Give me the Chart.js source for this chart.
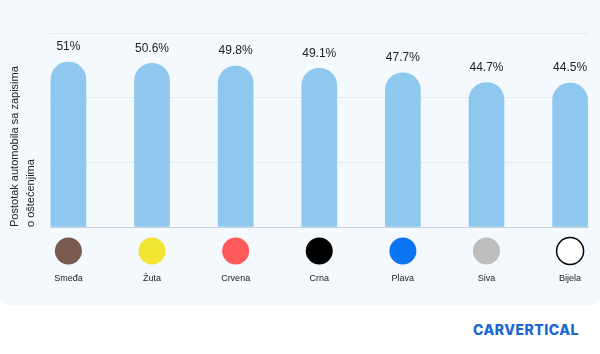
<!DOCTYPE html>
<html>
<head>
<meta charset="utf-8">
<script src="https://cdn.jsdelivr.net/npm/chart.js@4.4.1/dist/chart.umd.min.js"></script>
<style>
  html, body { margin: 0; padding: 0; background: #ffffff; }
  body { width: 600px; height: 354px; position: relative; overflow: hidden; font-family: "Liberation Sans", Arial, sans-serif; }
  #panel { position: absolute; left: 0; top: 0; width: 600px; height: 305px; background: #F3F9FD; border-radius: 0 0 10px 10px; }
  #logo { position: absolute; right: 21px; top: 320px; font-family: Inter, sans-serif; font-weight: 800; font-size: 14px; letter-spacing: 0.5px; color: #1A66D6; line-height: 20px; }
</style>
</head>
<body>
<div id="panel"><canvas id="c" width="600" height="305"></canvas></div>
<div id="logo">CARVERTICAL</div>
<script>
const categories = ['Smeđa', 'Žuta', 'Crvena', 'Crna', 'Plava', 'Siva', 'Bijela'];
const values = [51, 50.6, 49.8, 49.1, 47.7, 44.7, 44.5];
const swatchColors = ['#7A5A4E', '#F2E433', '#FF5B5B', '#000000', '#0A74F2', '#BEBEBE', '#FFFFFF'];
const swatchBorders = [null, null, null, null, null, null, '#000000'];
const yTicks = [0, 20, 40, 60];
const yTitle = ['Postotak automobila sa zapisima', 'o oštećenjima'];

const FONT = '"Liberation Sans", Arial, sans-serif';

const valueLabels = {
  id: 'valueLabels',
  afterDatasetsDraw(chart) {
    const ctx = chart.ctx;
    const meta = chart.getDatasetMeta(0);
    ctx.save();
    ctx.font = '12px ' + FONT;
    ctx.fillStyle = '#222222';
    ctx.textAlign = 'center';
    ctx.textBaseline = 'middle';
    meta.data.forEach((bar, i) => {
      ctx.fillText(values[i] + '%', bar.x, bar.y - 15);
    });
    ctx.restore();
  }
};

const swatches = {
  id: 'swatches',
  afterDraw(chart) {
    const ctx = chart.ctx;
    const xs = chart.scales.x;
    const yBase = chart.chartArea.bottom + 24;
    ctx.save();
    categories.forEach((c, i) => {
      const x = xs.getPixelForValue(i);
      ctx.beginPath();
      ctx.arc(x, yBase, 13.5, 0, Math.PI * 2);
      ctx.fillStyle = swatchColors[i];
      ctx.fill();
      if (swatchBorders[i]) {
        ctx.lineWidth = 1.5;
        ctx.strokeStyle = swatchBorders[i];
        ctx.stroke();
      }
    });
    ctx.restore();
  }
};

new Chart(document.getElementById('c'), {
  type: 'bar',
  data: {
    datasets: [{
      data: values.map((v, i) => ({ x: i, y: v })),
      backgroundColor: '#8EC8EF',
      borderRadius: 100,
      borderSkipped: 'start',
      barThickness: 35,
      clip: false
    }]
  },
  options: {
    responsive: false,
    animation: false,
    layout: { padding: { top: 33, right: 11.5, left: 0, bottom: 0 } },
    plugins: { legend: { display: false }, tooltip: { enabled: false } },
    scales: {
      x: {
        type: 'linear',
        offset: false,
        min: -0.22,
        max: 6.22,
        afterBuildTicks: (s) => { s.ticks = categories.map((_, i) => ({ value: i })); },
        afterFit: (s) => { s.height = 78; s.paddingLeft = 0; s.paddingRight = 0; },
        grid: { display: false, drawTicks: false, offset: false },
        border: { display: true, color: '#C8D2DA', width: 1 },
        ticks: {
          autoSkip: false,
          maxRotation: 0,
          padding: 46,
          color: '#222222',
          font: { family: FONT, size: 9 },
          callback: (v) => categories[v] ?? ''
        }
      },
      y: {
        min: 0,
        max: 60,
        afterBuildTicks: (s) => { s.ticks = yTicks.map(v => ({ value: v })); },
        afterFit: (s) => { s.width = 50; },
        grid: { color: '#E3E9EE', drawTicks: false, lineWidth: 1 },
        border: { display: false },
        ticks: { display: false },
        title: {
          display: true,
          text: yTitle,
          align: 'start',
          color: '#222222',
          font: { family: FONT, size: 11, lineHeight: 1.45 },
          padding: { top: 7, bottom: 0 }
        }
      }
    }
  },
  plugins: [valueLabels, swatches]
});
</script>
</body>
</html>
